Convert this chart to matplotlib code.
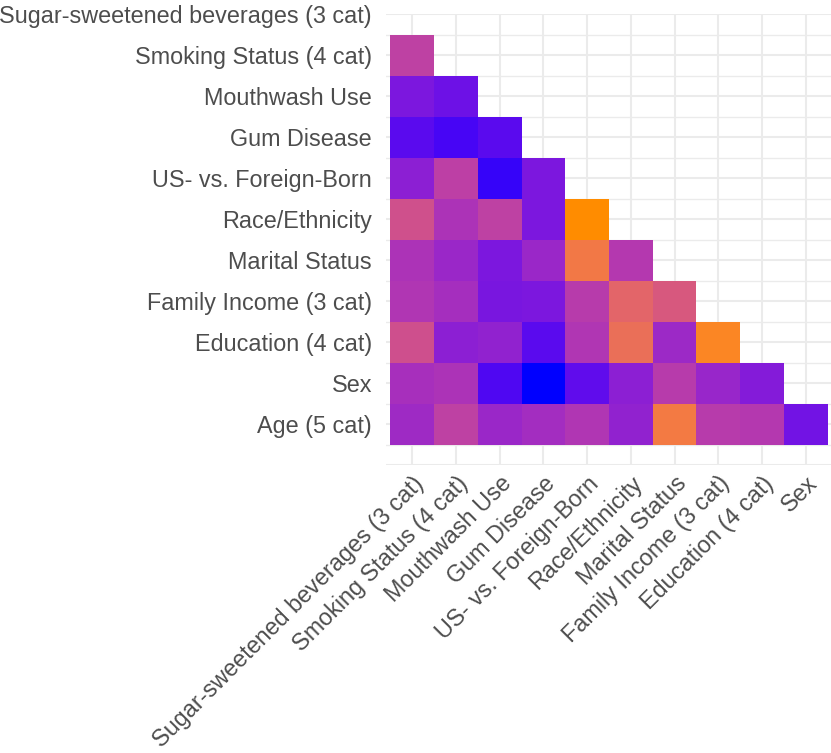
import numpy as np
import matplotlib
matplotlib.use("Agg")
import matplotlib.pyplot as plt
from matplotlib.colors import ListedColormap

plt.rcParams["font.family"] = ["Liberation Sans", "DejaVu Sans"]

# ── data ─────────────────────────────────────────────────────────────────────
variables = [
    "Sugar-sweetened beverages (3 cat)",
    "Smoking Status (4 cat)",
    "Mouthwash Use",
    "Gum Disease",
    "US- vs. Foreign-Born",
    "Race/Ethnicity",
    "Marital Status",
    "Family Income (3 cat)",
    "Education (4 cat)",
    "Sex",
    "Age (5 cat)",
]

# lower triangle, row i holds association of variables[i] with variables[:i]
# (scaled so that the weakest pair is 0 and the strongest is 1)
assoc_smoking   = [0.44]
assoc_mouthwash = [0.16, 0.12]
assoc_gum       = [0.08, 0.05, 0.08]
assoc_usborn    = [0.21, 0.43, 0.03, 0.16]
assoc_race      = [0.55, 0.34, 0.44, 0.16, 1.00]
assoc_marital   = [0.34, 0.26, 0.16, 0.26, 0.85, 0.38]
assoc_income    = [0.36, 0.31, 0.15, 0.16, 0.40, 0.71, 0.61]
assoc_educ      = [0.54, 0.21, 0.23, 0.08, 0.36, 0.78, 0.27, 0.95]
assoc_sex       = [0.32, 0.34, 0.06, 0.00, 0.09, 0.21, 0.40, 0.25, 0.18]
assoc_age       = [0.28, 0.44, 0.26, 0.30, 0.36, 0.23, 0.86, 0.40, 0.38, 0.13]

rows = [[], assoc_smoking, assoc_mouthwash, assoc_gum, assoc_usborn, assoc_race,
        assoc_marital, assoc_income, assoc_educ, assoc_sex, assoc_age]


# ── blue → darkorange gradient interpolated in CIELAB (like ggplot) ─────────
M = np.array([[0.4124, 0.3576, 0.1805], [0.2126, 0.7152, 0.0722], [0.0193, 0.1192, 0.9505]])
WP = np.array([0.95047, 1.0, 1.08883])


def rgb2lab(rgb):
    c = np.asarray(rgb, float)
    lin = np.where(c <= 0.04045, c / 12.92, ((c + 0.055) / 1.055) ** 2.4)
    xyz = M @ lin / WP
    f = np.where(xyz > 216 / 24389, np.cbrt(xyz), (24389 / 27 * xyz + 16) / 116)
    return np.array([116 * f[1] - 16, 500 * (f[0] - f[1]), 200 * (f[1] - f[2])])


def lab2rgb(lab):
    fy = (lab[0] + 16) / 116
    f = np.array([fy + lab[1] / 500, fy, fy - lab[2] / 200])
    xyz = np.where(f ** 3 > 216 / 24389, f ** 3, (116 * f - 16) / (24389 / 27)) * WP
    lin = np.clip(np.linalg.solve(M, xyz), 0, 1)
    return np.where(lin <= 0.0031308, 12.92 * lin, 1.055 * lin ** (1 / 2.4) - 0.055)


lo, hi = rgb2lab([0, 0, 1]), rgb2lab([1, 140 / 255, 0])
cmap = ListedColormap([lab2rgb(lo + t * (hi - lo)) for t in np.linspace(0, 1, 256)])

# ── matrix (y: Age at bottom … Sugar at top) ────────────────────────────────
n = len(variables)
mat = np.full((n, n - 1), np.nan)
for i, r in enumerate(rows):
    mat[n - 1 - i, :len(r)] = r
mat = np.ma.masked_invalid(mat)

fig = plt.figure(figsize=(8.31, 7.53), dpi=100)
ax = fig.add_axes([386 / 831, 1 - 465 / 753, 446 / 831, 451 / 753])

grid_c = "#EBEBEB"
for x in range(1, n):
    ax.axvline(x, color=grid_c, lw=1.5, zorder=0)
for k in range(0, 2 * n + 1):
    ax.axhline(k / 2, color=grid_c, lw=1.5 if k % 2 == 0 else 1.0, zorder=0)

xe = np.arange(0.5, n, 1.0)
ye = np.arange(0.5, n + 1, 1.0)
ax.pcolormesh(xe, ye, mat, cmap=cmap, vmin=0, vmax=1, zorder=1)

ax.set_xlim(0.4, 10.6)
ax.set_ylim(0, 11)
ax.set_xticks(range(1, n))
ax.set_xticklabels(variables[:-1], rotation=45, ha="right", va="top",
                   rotation_mode="anchor")
ax.set_yticks(range(1, n + 1))
ax.set_yticklabels(variables[::-1])
ax.tick_params(axis="both", length=0, labelsize=16.8, labelcolor="#4D4D4D")
ax.tick_params(axis="y", pad=10)
ax.tick_params(axis="x", pad=5)
for s in ax.spines.values():
    s.set_visible(False)

fig.savefig("out.png", dpi=100)
